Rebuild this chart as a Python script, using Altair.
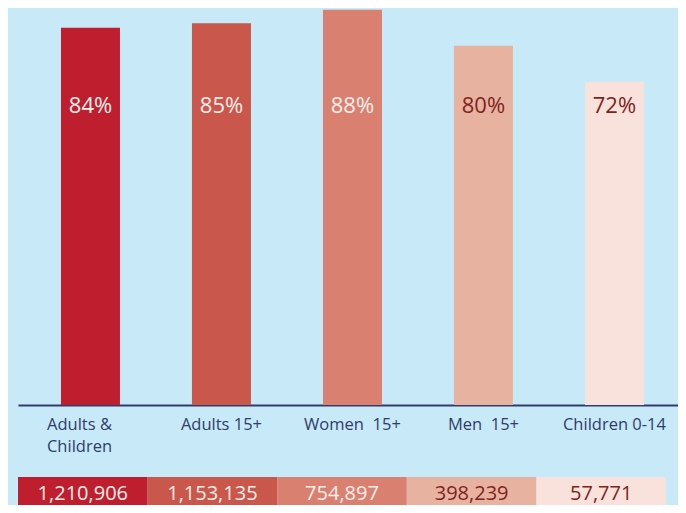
import altair as alt
import pandas as pd

categories = ["Adults &|Children", "Adults 15+", "Women\u00a0 15+", "Men\u00a0 15+", "Children 0-14"]
percents = [84, 85, 88, 80, 72]
counts = ["1,210,906", "1,153,135", "754,897", "398,239", "57,771"]
bar_colors = ["#BE1E2D", "#CA574B", "#D98070", "#E8B2A0", "#F8E2DB"]
text_colors = ["#FCEFEA", "#FCEFEA", "#FCEFEA", "#7E2420", "#7E2420"]

FONT = "Open Sans"
BG = "#C8E9F8"
NAVY = "#2E3D6B"

df = pd.DataFrame({
    "cat": categories,
    "pct": percents,
    "pct_label": [f"{p}%" for p in percents],
    "count": counts,
    "bar_color": bar_colors,
    "text_color": text_colors,
})

x_top = alt.X(
    "cat:N",
    sort=categories,
    scale=alt.Scale(paddingInner=0.5496, paddingOuter=0.294, align=0.558),
    axis=alt.Axis(
        title=None,
        ticks=False,
        domainColor=NAVY,
        domainWidth=2,
        labelAngle=0,
        labelFont=FONT,
        labelFontSize=16.5,
        labelColor=NAVY,
        labelPadding=11,
        labelLineHeight=22,
        labelExpr="split(datum.label, '|')",
        labelOffset={"condition": {"test": "datum.value == 'Adults &|Children'", "value": -11}, "value": 0},
    ),
)

bars = alt.Chart(df).mark_bar().encode(
    x=x_top,
    y=alt.Y("pct:Q", scale=alt.Scale(domain=[0, 88.4], nice=False, zero=True), axis=None),
    color=alt.Color("bar_color:N", scale=None),
)

pct_text = alt.Chart(df).mark_text(
    font=FONT, fontSize=22, baseline="alphabetic", align="center"
).encode(
    x=alt.X("cat:N", sort=categories),
    y=alt.value(105),
    text="pct_label:N",
    color=alt.Color("text_color:N", scale=None),
)

top = alt.layer(bars, pct_text).properties(width=660, height=397)

x_bot = alt.X(
    "cat:N",
    sort=categories,
    scale=alt.Scale(paddingInner=0, paddingOuter=0),
    axis=None,
)

cells = alt.Chart(df).mark_rect().encode(
    x=x_bot,
    color=alt.Color("bar_color:N", scale=None),
)

cell_text = alt.Chart(df).mark_text(
    font=FONT, fontSize=20, baseline="middle", align="center", dy=3
).encode(
    x=alt.X("cat:N", sort=categories),
    text="count:N",
    color=alt.Color("text_color:N", scale=None),
)

bottom = alt.layer(cells, cell_text).properties(width=648, height=28)

chart = (
    alt.vconcat(top, bottom, spacing=22)
    .resolve_scale(x="independent", y="independent")
    .properties(background=BG, padding={"left": 10, "top": 0, "right": 0, "bottom": 0})
    .configure_view(stroke=None)
)

chart.save("out.html", embed_options={"renderer": "svg", "actions": False})
